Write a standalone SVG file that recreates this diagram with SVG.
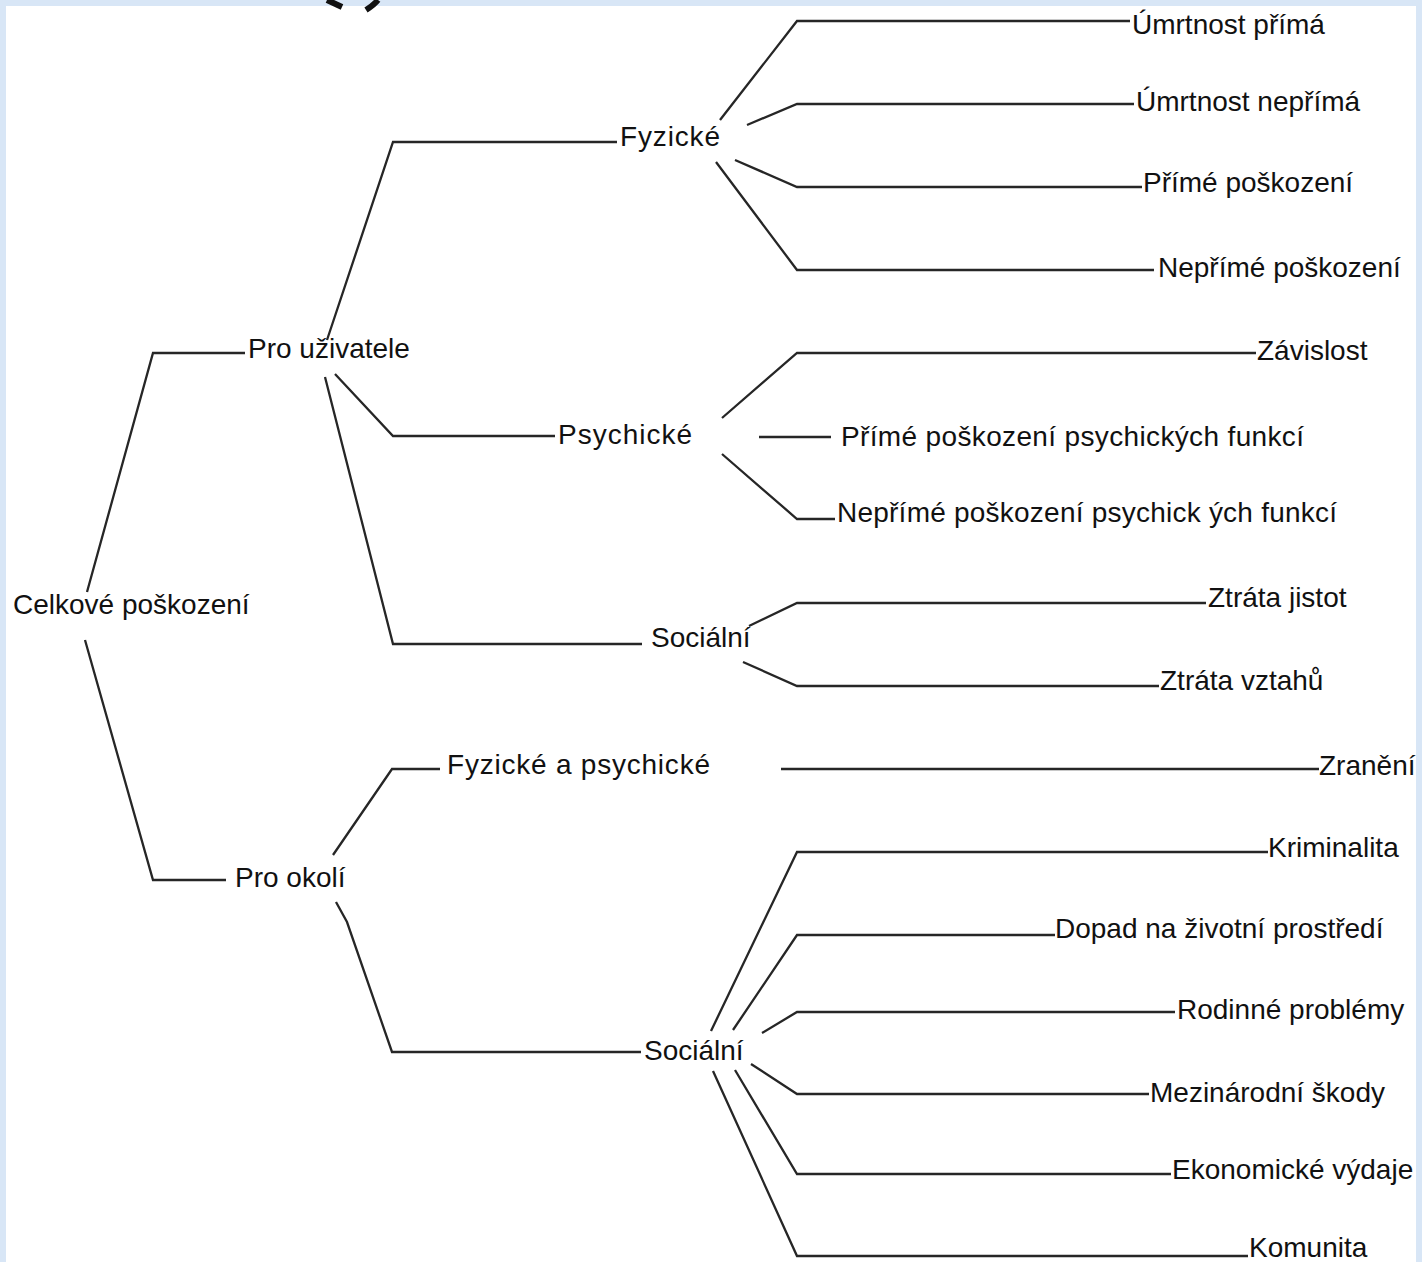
<svg xmlns="http://www.w3.org/2000/svg" width="1422" height="1262" viewBox="0 0 1422 1262">
<style>
.t{font-family:"Liberation Sans",Arial,sans-serif;font-size:28px;fill:#111}
.c{fill:none;stroke:#262626;stroke-width:2.3;stroke-linejoin:miter}
</style>
<rect x="0" y="0" width="1422" height="1262" fill="#d8e6f6"/>
<rect x="6" y="6" width="1410" height="1256" fill="#ffffff"/>
<path d="M327,0 L342,7 M378,0 Q374,5 366,10" fill="none" stroke="#111" stroke-width="6"/>
<g id="connectors">
<polyline class="c" points="87,592 153,353 245,353"/>
<polyline class="c" points="85,640 153,880 226,880"/>
<polyline class="c" points="327,340 393,142 617,142"/>
<polyline class="c" points="335,374 393,436 555,436"/>
<polyline class="c" points="325,377 393,644 642,644"/>
<polyline class="c" points="333,855 392,769 440,769"/>
<polyline class="c" points="336,902 347,922 392,1052 641,1052"/>
<polyline class="c" points="720,120 797,21 1130,21"/>
<polyline class="c" points="747,125 797,104 1134,104"/>
<polyline class="c" points="735,160 797,187 1142,187"/>
<polyline class="c" points="716,162 797,270 1154,270"/>
<polyline class="c" points="722,418 797,353 1256,353"/>
<polyline class="c" points="759,437 831,437"/>
<polyline class="c" points="722,454 797,519 835,519"/>
<polyline class="c" points="749,626 797,603 1206,603"/>
<polyline class="c" points="743,662 797,686 1159,686"/>
<polyline class="c" points="781,769 1319,769"/>
<polyline class="c" points="711,1031 797,852 1268,852"/>
<polyline class="c" points="733,1030 797,935 1055,935"/>
<polyline class="c" points="762,1033 797,1012 1175,1012"/>
<polyline class="c" points="751,1064 797,1094 1149,1094"/>
<polyline class="c" points="735,1070 797,1174 1171,1174"/>
<polyline class="c" points="713,1071 797,1256 1248,1256"/>
</g>
<g id="n-celkove"><text class="t" x="13" y="614">Celkové poškození</text></g>
<g id="n-pro-uzivatele"><text class="t" x="248" y="358">Pro uživatele</text></g>
<g id="n-pro-okoli"><text class="t" x="235" y="887">Pro okolí</text></g>
<g id="n-fyzicke"><text class="t" x="620" y="146" textLength="100" lengthAdjust="spacing">Fyzické</text></g>
<g id="n-psychicke"><text class="t" x="558" y="444" textLength="134" lengthAdjust="spacing">Psychické</text></g>
<g id="n-socialni-1"><text class="t" x="651" y="647">Sociální</text></g>
<g id="n-fyz-psych"><text class="t" x="447" y="774" textLength="263" lengthAdjust="spacing">Fyzické a psychické</text></g>
<g id="n-socialni-2"><text class="t" x="644" y="1060">Sociální</text></g>
<g id="n-umrtnost-prima"><text class="t" x="1132" y="34">Úmrtnost přímá</text></g>
<g id="n-umrtnost-neprima"><text class="t" x="1136" y="111">Úmrtnost nepřímá</text></g>
<g id="n-prime-poskozeni"><text class="t" x="1143" y="192">Přímé poškození</text></g>
<g id="n-neprime-poskozeni"><text class="t" x="1158" y="277">Nepřímé poškození</text></g>
<g id="n-zavislost"><text class="t" x="1257" y="360">Závislost</text></g>
<g id="n-prime-psych"><text class="t" x="841" y="446" textLength="463" lengthAdjust="spacing">Přímé poškození psychických funkcí</text></g>
<g id="n-neprime-psych"><text class="t" x="837" y="522" textLength="500" lengthAdjust="spacing">Nepřímé poškození psychick ých funkcí</text></g>
<g id="n-ztrata-jistot"><text class="t" x="1208" y="607">Ztráta jistot</text></g>
<g id="n-ztrata-vztahu"><text class="t" x="1160" y="690">Ztráta vztahů</text></g>
<g id="n-zraneni"><text class="t" x="1319" y="775">Zranění</text></g>
<g id="n-kriminalita"><text class="t" x="1268" y="857">Kriminalita</text></g>
<g id="n-dopad"><text class="t" x="1055" y="938">Dopad na životní prostředí</text></g>
<g id="n-rodinne"><text class="t" x="1177" y="1019">Rodinné problémy</text></g>
<g id="n-mezinarodni"><text class="t" x="1150" y="1102">Mezinárodní škody</text></g>
<g id="n-ekonomicke"><text class="t" x="1172" y="1179">Ekonomické výdaje</text></g>
<g id="n-komunita"><text class="t" x="1249" y="1257">Komunita</text></g>
</svg>
